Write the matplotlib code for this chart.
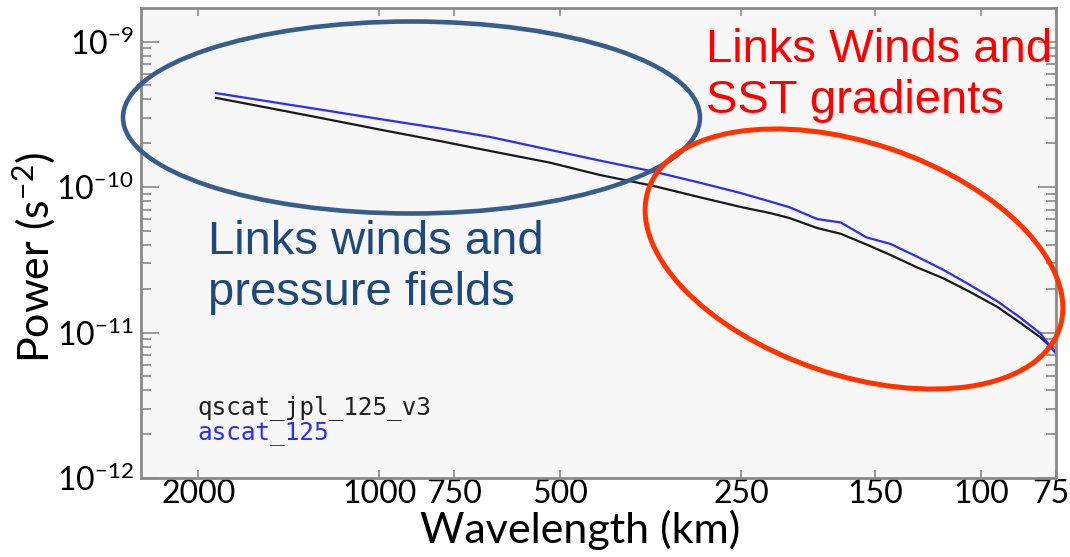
import numpy as np
import matplotlib.pyplot as plt
from matplotlib.patches import Ellipse
from matplotlib.ticker import NullLocator, NullFormatter, FixedLocator
from matplotlib.transforms import IdentityTransform, ScaledTranslation

plt.rcParams['font.family'] = ['Lato', 'DejaVu Sans']
plt.rcParams['mathtext.fontset'] = 'custom'
plt.rcParams['mathtext.rm'] = 'Lato'
plt.rcParams['mathtext.default'] = 'regular'

# Spectra
wavelength_km = [1869, 1579, 1255, 997, 793, 655, 520, 430, 351, 293, 251, 224,
                 208, 187, 171, 155, 141.5, 127.6, 115.5, 104.2, 93.9, 86.1, 79.7, 75.3]
qscat_power = [4.10e-10, 3.59e-10, 2.99e-10, 2.48e-10, 2.07e-10, 1.77e-10, 1.47e-10,
               1.21e-10, 1.02e-10, 8.5e-11, 7.3e-11, 6.62e-11, 6.12e-11, 5.22e-11,
               4.77e-11, 4.03e-11, 3.42e-11, 2.80e-11, 2.36e-11, 1.90e-11, 1.50e-11,
               1.17e-11, 9.3e-12, 7.5e-12]
ascat_power = [4.42e-10, 3.96e-10, 3.41e-10, 2.93e-10, 2.53e-10, 2.21e-10, 1.80e-10,
               1.52e-10, 1.28e-10, 1.07e-10, 9.1e-11, 7.95e-11, 7.26e-11, 6.02e-11,
               5.71e-11, 4.51e-11, 4.07e-11, 3.32e-11, 2.70e-11, 2.12e-11, 1.64e-11,
               1.27e-11, 9.9e-12, 7.3e-12]

xtick_km = [2000, 1000, 750, 500, 250, 150, 100, 75]
xtick_labels = ['2000', '1000', '750', '500', '250', '150', '100', '75']
ytick_exp = [-12, -11, -10, -9]

grey = '#8a8a8a'

fig = plt.figure(figsize=(10.7, 5.57), dpi=100)
ax = fig.add_axes([141/1070, 79/557, 915/1070, 470/557])
ax.set_facecolor('#f7f7f7')

ax.plot(wavelength_km, qscat_power, color='#1a1a1a', lw=1.6)
ax.plot(wavelength_km, ascat_power, color='#2b2bff', lw=1.6)

ax.set_xscale('log')
ax.set_yscale('log')
ax.set_xlim(2490, 75)
ax.set_ylim(1e-12, 1.70e-9)

ax.xaxis.set_major_locator(FixedLocator(xtick_km))
ax.set_xticklabels(xtick_labels)
ax.xaxis.set_minor_locator(NullLocator())

ax.set_yticks([10.0**e for e in ytick_exp])
ax.set_yticklabels(['$10^{%d}$' % e for e in ytick_exp])
ax.yaxis.set_minor_locator(FixedLocator([k * 10.0**e for e in ytick_exp[:-1] for k in range(2, 10)]))
ax.yaxis.set_minor_formatter(NullFormatter())

ax.tick_params(axis='x', which='major', direction='in', top=True, length=6, width=1.2,
               color=grey, labelsize=23, pad=1)
ax.tick_params(axis='y', which='major', direction='in', right=True, length=13, width=1.2,
               color=grey, labelsize=23, pad=5)
ax.tick_params(axis='y', which='minor', direction='in', right=True, length=7, width=1.2,
               color=grey)
for s in ax.spines.values():
    s.set_color(grey)
    s.set_linewidth(2)

# last label sits at the right edge, nudge it in a little
last = ax.get_xticklabels()[-1]
last.set_transform(last.get_transform() + ScaledTranslation(-0.05, 0, fig.dpi_scale_trans))

ax.set_xlabel('Wavelength (km)', fontsize=31, va='center')
ax.xaxis.set_label_coords(0.48, -0.11)
ax.set_ylabel('Power (s$^{-2}$)', fontsize=31, va='center', ha='center')
ax.yaxis.set_label_coords(-0.117, 0.47)

# legend written as plain labels
ax.text(0.062, 0.149, 'qscat_jpl_125_v3', transform=ax.transAxes, va='center',
        family='DejaVu Sans Mono', fontsize=17.5, color='#202020')
ax.text(0.062, 0.096, 'ascat_125', transform=ax.transAxes, va='center',
        family='DejaVu Sans Mono', fontsize=17.5, color='#2b2bff')

# annotations
fig.text(706/1070, 1 - 28/557, 'Links Winds and\nSST gradients', color='#ff0000',
         family='Liberation Sans', fontsize=34, va='top', ha='left')
fig.text(208/1070, 1 - 220/557, 'Links winds and\npressure fields', color='#1f497d',
         family='Liberation Sans', fontsize=34, va='top', ha='left')

fig.add_artist(Ellipse((411.5, 557 - 117.5), 577, 192, fill=False, ec='#385d8a', lw=3.3,
                       transform=IdentityTransform()))
fig.add_artist(Ellipse((854, 557 - 259), 434, 232, angle=-18.7, fill=False, ec='#ff3300',
                       lw=3.6, transform=IdentityTransform()))

fig.savefig('out.png', dpi=100)
